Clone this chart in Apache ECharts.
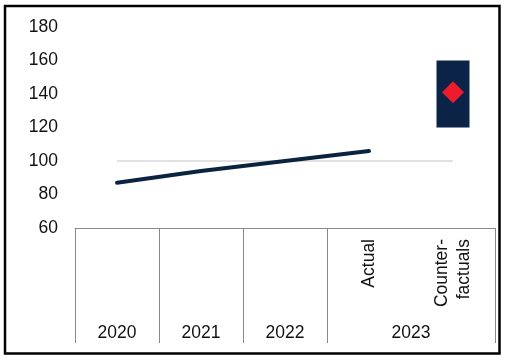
<!DOCTYPE html>
<html><head><meta charset="utf-8">
<script src="https://cdn.jsdelivr.net/npm/echarts@6/dist/echarts.min.js"></script>
<style>html,body{margin:0;padding:0;background:#fff}#c{width:508px;height:362px}</style>
</head><body><div id="c"></div>
<script>
const categories = ['2020', '2021', '2022', 'Actual', 'Counterfactuals'];
const subLabels = {'Actual': 'Actual', 'Counterfactuals': 'Counter-\nfactuals'};
const yearLabels = ['2020', '2021', '2022', '2023'];
const yearLabelPos = [0.5, 1.5, 2.5, 4];
const yearDividers = [0, 1, 2, 3, 5];
const lineValues = [87, 94, 100, 106, null];
const referenceValues = [100, 100, 100, 100, 100];
const rangeLow = [null, null, null, null, 120];
const rangeHigh = [null, null, null, null, 160];
const pointValues = [null, null, null, null, 141];
const yTicks = {min: 60, max: 180, interval: 20};

const FONT = 'Liberation Sans, Arial, sans-serif';
const chart = echarts.init(document.getElementById('c'));
chart.setOption({
  animation: false,
  backgroundColor: '#fff',
  graphic: [{
    type: 'rect', shape: {x: 5, y: 6, width: 494.5, height: 347.5},
    style: {fill: 'none', stroke: '#000', lineWidth: 2.5}
  }],
  grid: {left: 75, right: 13, top: 27, bottom: 134},
  xAxis: [{
    type: 'category', data: categories, boundaryGap: true,
    axisLine: {show: true, lineStyle: {color: '#888', width: 1}},
    axisTick: {show: false},
    axisLabel: {
      interval: 0, rotate: 90, margin: 11,
      fontFamily: FONT, fontSize: 17.5, color: '#111', lineHeight: 22,
      formatter: v => subLabels[v] || ''
    }
  }, {
    type: 'value', min: 0, max: 5, position: 'bottom',
    axisLine: {show: false},
    splitLine: {show: false},
    axisTick: {show: true, customValues: yearDividers, length: 115, lineStyle: {color: '#888', width: 1}},
    axisLabel: {
      customValues: yearLabelPos, margin: 96,
      fontFamily: FONT, fontSize: 17.5, color: '#111',
      formatter: v => yearLabels[yearLabelPos.indexOf(v)] || ''
    }
  }],
  yAxis: {
    type: 'value', min: yTicks.min, max: yTicks.max, interval: yTicks.interval,
    axisLine: {show: false}, axisTick: {show: false}, splitLine: {show: false},
    axisLabel: {margin: 17, fontFamily: FONT, fontSize: 17.5, color: '#111'}
  },
  series: [{
    type: 'line', data: referenceValues, xAxisIndex: 0, symbol: 'none',
    lineStyle: {color: '#c4c4c4', width: 1}, z: 1
  }, {
    type: 'line', data: lineValues, xAxisIndex: 0, symbol: 'none',
    lineStyle: {color: '#0c2340', width: 4, cap: 'round'}, z: 3
  }, {
    type: 'bar', stack: 'r', xAxisIndex: 0, barWidth: 33,
    data: rangeLow, itemStyle: {color: 'transparent'}
  }, {
    type: 'bar', stack: 'r', xAxisIndex: 0, barWidth: 33,
    data: rangeHigh.map((h, i) => h == null ? null : h - rangeLow[i]),
    itemStyle: {color: '#0b2346'}
  }, {
    type: 'scatter', xAxisIndex: 0, data: pointValues, symbol: 'diamond', symbolSize: 22,
    itemStyle: {color: '#ec1c2e', opacity: 1}, z: 5
  }]
});
</script></body></html>
